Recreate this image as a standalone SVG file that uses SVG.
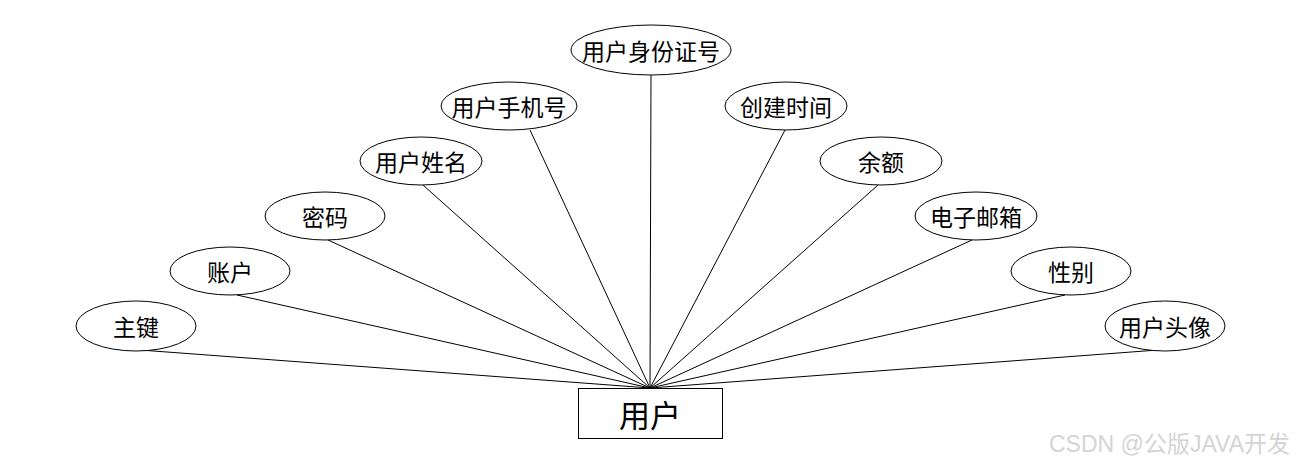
<svg xmlns="http://www.w3.org/2000/svg" width="1300" height="468" viewBox="0 0 1300 468">
<style>
.n ellipse{fill:#fff;stroke:#000;stroke-width:1}
.n text{font-family:"Noto Sans CJK SC","Noto Sans",sans-serif;font-size:23px;text-anchor:middle;dominant-baseline:central;fill:#000}
#edges line{stroke:#000;stroke-width:1}
.wm{font-family:"Liberation Sans","Noto Sans CJK SC",sans-serif;font-size:23px;fill:#d4d4d4;text-anchor:end}
</style>
<rect width="1300" height="468" fill="#fff"/>
<g id="edges">
<line x1="140" y1="350" x2="650" y2="388"/>
<line x1="237" y1="295" x2="650" y2="388"/>
<line x1="328" y1="240" x2="650" y2="388"/>
<line x1="423" y1="185" x2="650" y2="388"/>
<line x1="530" y1="130" x2="650" y2="388"/>
<line x1="651" y1="75" x2="650" y2="388"/>
<line x1="785" y1="130" x2="650" y2="388"/>
<line x1="878" y1="185" x2="650" y2="388"/>
<line x1="972" y1="240" x2="650" y2="388"/>
<line x1="1065" y1="295" x2="650" y2="388"/>
<line x1="1158" y1="350" x2="650" y2="388"/>
</g>
<g id="n1" class="n"><ellipse cx="136" cy="326" rx="60" ry="25"/><text x="136" y="326">主键</text></g>
<g id="n2" class="n"><ellipse cx="230" cy="271" rx="60" ry="24"/><text x="230" y="271">账户</text></g>
<g id="n3" class="n"><ellipse cx="325" cy="216" rx="60" ry="24"/><text x="325" y="216">密码</text></g>
<g id="n4" class="n"><ellipse cx="421" cy="161" rx="61" ry="24"/><text x="421" y="161">用户姓名</text></g>
<g id="n5" class="n"><ellipse cx="509" cy="106" rx="68" ry="24"/><text x="509" y="106">用户手机号</text></g>
<g id="n6" class="n"><ellipse cx="651" cy="50" rx="80" ry="25"/><text x="651" y="50">用户身份证号</text></g>
<g id="n7" class="n"><ellipse cx="786" cy="106" rx="61" ry="24"/><text x="786" y="106">创建时间</text></g>
<g id="n8" class="n"><ellipse cx="881" cy="161" rx="61" ry="24"/><text x="881" y="161">余额</text></g>
<g id="n9" class="n"><ellipse cx="976" cy="216" rx="61" ry="24"/><text x="976" y="216">电子邮箱</text></g>
<g id="n10" class="n"><ellipse cx="1071" cy="271" rx="60" ry="24"/><text x="1071" y="271">性别</text></g>
<g id="n11" class="n"><ellipse cx="1165" cy="326" rx="60" ry="25"/><text x="1165" y="326">用户头像</text></g>
<g id="user" class="n"><rect x="578.5" y="388.5" width="144" height="50" fill="#fff" stroke="#000" stroke-width="1"/><text x="650" y="413" style="font-size:31px">用户</text></g>
<text class="wm" x="1290" y="452">CSDN @公版JAVA开发</text>
</svg>
